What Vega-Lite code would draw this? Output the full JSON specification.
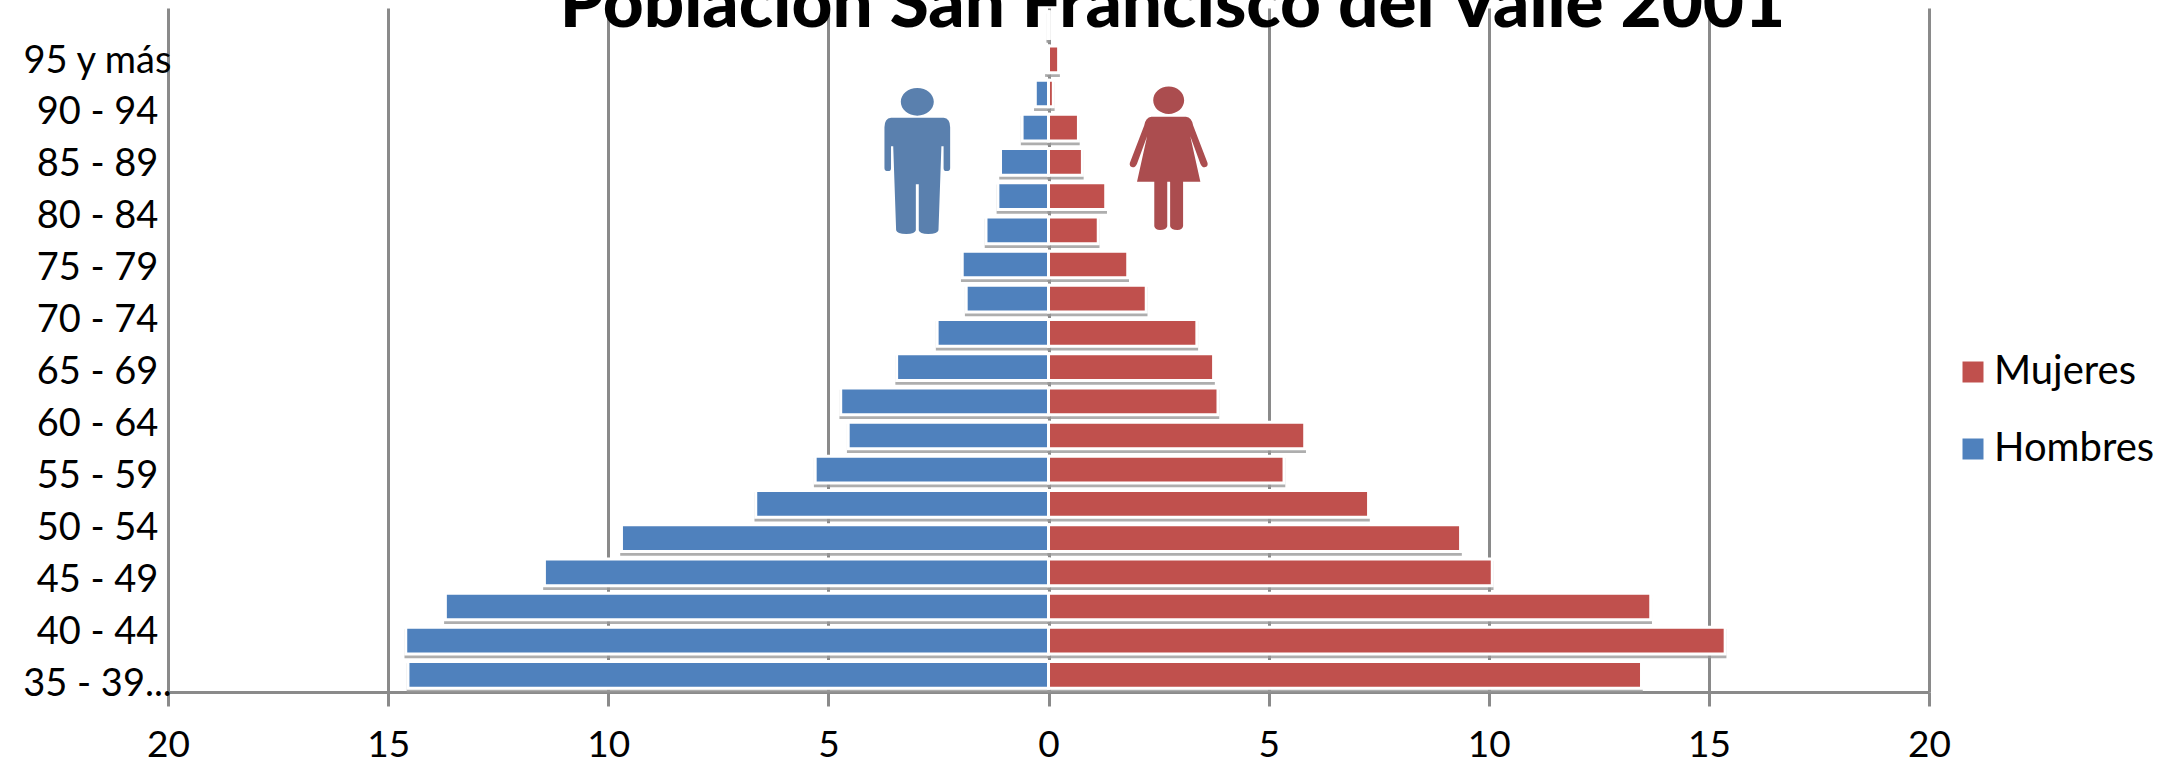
{
"$schema":"https://vega.github.io/schema/vega-lite/v6.json",
"width":1761,"height":684,
"autosize":{"type":"none"},
"padding":{"left":168,"top":8,"right":232,"bottom":73},
"background":"white",
"view":{"stroke":null},
"title":{"text":"Población San Francisco del Valle 2001","font":"Lato","fontSize":71,"fontWeight":900,"color":"#000000","anchor":"middle","dx":124,"offset":-90,"baseline":"alphabetic"},
"datasets":{
"barras":[
{"fila":1,"sexo":"Hombres","valor":-14.55},{"fila":1,"sexo":"Mujeres","valor":13.47},
{"fila":2,"sexo":"Hombres","valor":-14.6},{"fila":2,"sexo":"Mujeres","valor":15.37},
{"fila":3,"sexo":"Hombres","valor":-13.7},{"fila":3,"sexo":"Mujeres","valor":13.68},
{"fila":4,"sexo":"Hombres","valor":-11.45},{"fila":4,"sexo":"Mujeres","valor":10.08},
{"fila":5,"sexo":"Hombres","valor":-9.7},{"fila":5,"sexo":"Mujeres","valor":9.36},
{"fila":6,"sexo":"Hombres","valor":-6.65},{"fila":6,"sexo":"Mujeres","valor":7.27},
{"fila":7,"sexo":"Hombres","valor":-5.3},{"fila":7,"sexo":"Mujeres","valor":5.35},
{"fila":8,"sexo":"Hombres","valor":-4.55},{"fila":8,"sexo":"Mujeres","valor":5.82},
{"fila":9,"sexo":"Hombres","valor":-4.72},{"fila":9,"sexo":"Mujeres","valor":3.85},
{"fila":10,"sexo":"Hombres","valor":-3.45},{"fila":10,"sexo":"Mujeres","valor":3.75},
{"fila":11,"sexo":"Hombres","valor":-2.53},{"fila":11,"sexo":"Mujeres","valor":3.37},
{"fila":12,"sexo":"Hombres","valor":-1.87},{"fila":12,"sexo":"Mujeres","valor":2.22},
{"fila":13,"sexo":"Hombres","valor":-1.96},{"fila":13,"sexo":"Mujeres","valor":1.8},
{"fila":14,"sexo":"Hombres","valor":-1.42},{"fila":14,"sexo":"Mujeres","valor":1.13},
{"fila":15,"sexo":"Hombres","valor":-1.15},{"fila":15,"sexo":"Mujeres","valor":1.3},
{"fila":16,"sexo":"Hombres","valor":-1.09},{"fila":16,"sexo":"Mujeres","valor":0.77},
{"fila":17,"sexo":"Hombres","valor":-0.6},{"fila":17,"sexo":"Mujeres","valor":0.68},
{"fila":18,"sexo":"Hombres","valor":-0.3},{"fila":18,"sexo":"Mujeres","valor":0.11},
{"fila":19,"sexo":"Hombres","valor":-0.05},{"fila":19,"sexo":"Mujeres","valor":0.23},
{"fila":20,"sexo":"Hombres","valor":-0.02},{"fila":20,"sexo":"Mujeres","valor":0.02}
],
"edades":[{"edad":"95 y más"},{"edad":"90 - 94"},{"edad":"85 - 89"},{"edad":"80 - 84"},{"edad":"75 - 79"},{"edad":"70 - 74"},{"edad":"65 - 69"},{"edad":"60 - 64"},{"edad":"55 - 59"},{"edad":"50 - 54"},{"edad":"45 - 49"},{"edad":"40 - 44"},{"edad":"35 - 39..."}]
},
"resolve":{"scale":{"y":"independent"},"axis":{"y":"independent"}},
"layer":[
{
"layer":[
{"data":{"name":"barras"},
 "mark":{"type":"bar","fill":"#9a9a9a","opacity":0.8,"yOffset":3,"stroke":"#9a9a9a","strokeWidth":2.5},
 "encoding":{
  "y":{"field":"fila","type":"ordinal","sort":"descending","axis":null,"scale":{"paddingInner":0.22,"paddingOuter":0.11}},
  "x":{"field":"valor","type":"quantitative","stack":null,"scale":{"domain":[-20,20]},
   "axis":{"title":null,"values":[-20,-15,-10,-5,0,5,10,15,20],"labelExpr":"abs(datum.value)","grid":true,"gridColor":"#8a8a8a","gridWidth":3,"domainColor":"#8a8a8a","domainWidth":3,"tickColor":"#8a8a8a","tickWidth":3,"tickSize":14,"labelFont":"Lato","labelFontSize":37,"labelColor":"#000000","labelPadding":21,"labelFlush":false}}
 }},
{"data":{"name":"barras"},
 "mark":{"type":"bar","stroke":"#ffffff","strokeWidth":3},
 "encoding":{
  "y":{"field":"fila","type":"ordinal","sort":"descending","axis":null,"scale":{"paddingInner":0.22,"paddingOuter":0.11}},
  "x":{"field":"valor","type":"quantitative","stack":null},
  "color":{"field":"sexo","type":"nominal","scale":{"domain":["Mujeres","Hombres"],"range":["#C0504D","#4F81BD"]},
   "legend":{"title":null,"orient":"none","legendX":1785,"legendY":344,"padding":0,"symbolType":"square","symbolSize":441,"symbolStrokeWidth":0,"labelFont":"Lato","labelFontSize":40,"labelColor":"#000000","labelOffset":1,"rowPadding":37,"labelLimit":300}}
 }},
{"data":{"values":[{"figura":"hombre","valor":-2.98,"fila":16}]},
 "mark":{"type":"point","filled":true,"opacity":1,"size":21316,"color":"#5A80AE","yOffset":-1,"shape":"M-0.226 -0.81 a0.226 0.19 0 1 1 0.452 0 a0.226 0.19 0 1 1 -0.452 0 Z M-0.36 -0.59 L0.36 -0.59 Q0.45 -0.58 0.45 -0.46 L0.45 0.1 Q0.45 0.14 0.40 0.14 Q0.36 0.14 0.36 0.1 L0.36 -0.2 L0.33 -0.2 L0.29 0.95 Q0.28 1 0.15 1 Q0.03 1 0.02 0.95 L0.02 0.32 L-0.02 0.32 L-0.02 0.95 Q-0.03 1 -0.15 1 Q-0.28 1 -0.29 0.95 L-0.33 -0.2 L-0.36 -0.2 L-0.36 0.1 Q-0.36 0.14 -0.40 0.14 Q-0.45 0.14 -0.45 0.1 L-0.45 -0.46 Q-0.45 -0.58 -0.36 -0.59 Z"},
 "encoding":{"x":{"field":"valor","type":"quantitative"},"y":{"field":"fila","type":"ordinal","sort":"descending","axis":null}}},
{"data":{"values":[{"figura":"mujer","valor":2.73,"fila":16}]},
 "mark":{"type":"point","filled":true,"opacity":1,"size":20736,"color":"#AB4D4F","yOffset":-4,"shape":"M-0.215 -0.8 a0.215 0.19 0 1 1 0.43 0 a0.215 0.19 0 1 1 -0.43 0 Z M-0.24 -0.57 L0.24 -0.57 Q0.32 -0.56 0.34 -0.45 L0.54 0.07 Q0.55 0.12 0.5 0.13 Q0.46 0.13 0.44 0.08 L0.3 -0.3 L0.44 0.33 L0.2 0.33 L0.2 0.95 Q0.19 1 0.12 1 Q0.03 1 0.02 0.95 L0.02 0.33 L-0.02 0.33 L-0.02 0.95 Q-0.03 1 -0.12 1 Q-0.19 1 -0.2 0.95 L-0.2 0.33 L-0.44 0.33 L-0.3 -0.3 L-0.44 0.08 Q-0.46 0.13 -0.5 0.13 Q-0.55 0.12 -0.54 0.07 L-0.34 -0.45 Q-0.32 -0.56 -0.24 -0.57 Z"},
 "encoding":{"x":{"field":"valor","type":"quantitative"},"y":{"field":"fila","type":"ordinal","sort":"descending","axis":null}}}
]},
{"data":{"name":"edades"},
 "mark":{"type":"point","opacity":0},
 "encoding":{
  "x":{"datum":0,"type":"quantitative"},
  "y":{"field":"edad","type":"ordinal","sort":null,"scale":{"type":"point","range":[53,676],"padding":0},
   "axis":{"title":null,"domain":false,"ticks":false,"grid":false,"labelFont":"Lato","labelFontSize":38,"labelColor":"#000000","labelAlign":"center","labelPadding":71,"labelOverlap":false,"labelBound":false}}
 }}
]
}
